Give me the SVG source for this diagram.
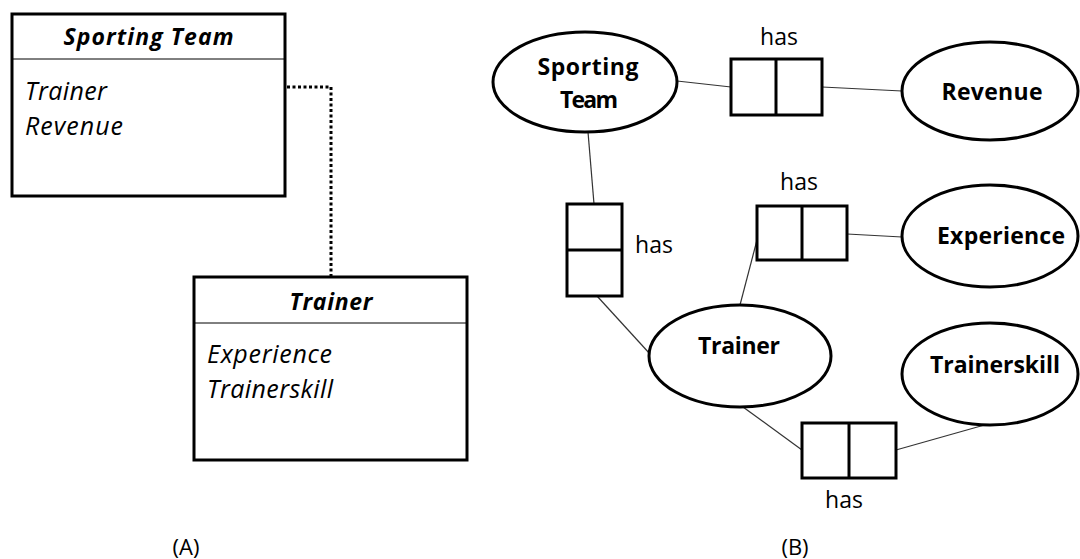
<svg xmlns="http://www.w3.org/2000/svg" width="1080" height="559" viewBox="0 0 1080 559">
  <style>
    .box { fill: #fff; stroke: #000; stroke-width: 3; }
    .div { stroke: #000; stroke-width: 1; }
    .rel { fill: #fff; stroke: #000; stroke-width: 3; }
    .ent { fill: #fff; stroke: #000; stroke-width: 3; }
    .link { stroke: #333; stroke-width: 1.2; fill: none; }
    .dots { stroke: #000; stroke-width: 3; fill: none; stroke-dasharray: 3 2.5; }
    text { font-family: "Open Sans", "Noto Sans", "Liberation Sans", sans-serif; fill: #000; }
    .title { font-size: 23px; font-weight: bold; font-style: italic; text-anchor: middle; }
    .attr { font-size: 25px; font-style: italic; }
    .ename { font-size: 23px; font-weight: bold; text-anchor: middle; }
    .lbl { font-size: 23px; text-anchor: middle; }
    .cap { font-size: 22px; text-anchor: middle; }
  </style>

  <!-- connectors -->
  <g id="connectors">
    <path class="dots" d="M287 87 H331 V277"/>
    <line class="link" x1="677" y1="81" x2="731" y2="87"/>
    <line class="link" x1="822" y1="87" x2="902" y2="91"/>
    <line class="link" x1="588" y1="132" x2="594" y2="204"/>
    <line class="link" x1="597" y1="296" x2="650" y2="354"/>
    <line class="link" x1="757" y1="240" x2="740" y2="305"/>
    <line class="link" x1="847" y1="234" x2="902" y2="237"/>
    <line class="link" x1="743" y1="407" x2="802" y2="450"/>
    <line class="link" x1="896" y1="450" x2="988" y2="424"/>
  </g>

  <!-- (A) class boxes -->
  <g id="classSportingTeam">
    <rect class="box" x="12" y="14" width="273" height="182"/>
    <line class="div" x1="12" y1="59" x2="285" y2="59"/>
    <text class="title" x="148.5" y="45" textLength="170">Sporting Team</text>
    <text class="attr" x="25" y="100" textLength="82">Trainer</text>
    <text class="attr" x="25" y="135" textLength="98">Revenue</text>
  </g>

  <g id="classTrainer">
    <rect class="box" x="194" y="277" width="273" height="183"/>
    <line class="div" x1="194" y1="323" x2="467" y2="323"/>
    <text class="title" x="331" y="310" textLength="83">Trainer</text>
    <text class="attr" x="207" y="363" textLength="125">Experience</text>
    <text class="attr" x="207" y="398" textLength="126">Trainerskill</text>
  </g>

  <!-- (B) entities -->
  <g id="entSportingTeam">
    <ellipse class="ent" cx="585" cy="82" rx="92" ry="50"/>
    <text class="ename" x="588" y="75" textLength="101">Sporting</text>
    <text class="ename" x="589" y="108" textLength="58">Team</text>
  </g>
  <g id="entRevenue">
    <ellipse class="ent" cx="990" cy="91" rx="88" ry="49"/>
    <text class="ename" x="992" y="100" textLength="101">Revenue</text>
  </g>
  <g id="entExperience">
    <ellipse class="ent" cx="990" cy="236" rx="88" ry="51"/>
    <text class="ename" x="1001" y="244" textLength="128">Experience</text>
  </g>
  <g id="entTrainer">
    <ellipse class="ent" cx="740" cy="356" rx="91" ry="51"/>
    <text class="ename" x="739" y="354" textLength="82">Trainer</text>
  </g>
  <g id="entTrainerskill">
    <ellipse class="ent" cx="990" cy="374" rx="88" ry="51"/>
    <text class="ename" x="995" y="373" textLength="130">Trainerskill</text>
  </g>

  <!-- (B) relationships -->
  <g id="relRevenue">
    <rect class="rel" x="731" y="59" width="91" height="56"/>
    <line class="rel" x1="776" y1="59" x2="776" y2="115"/>
    <text class="lbl" x="779" y="45">has</text>
  </g>
  <g id="relTrainer">
    <rect class="rel" x="567" y="204" width="55" height="92"/>
    <line class="rel" x1="567" y1="250" x2="622" y2="250"/>
    <text class="lbl" x="654" y="253">has</text>
  </g>
  <g id="relExperience">
    <rect class="rel" x="757" y="206" width="90" height="54"/>
    <line class="rel" x1="802" y1="206" x2="802" y2="260"/>
    <text class="lbl" x="799" y="190">has</text>
  </g>
  <g id="relTrainerskill">
    <rect class="rel" x="802" y="423" width="94" height="55"/>
    <line class="rel" x1="849" y1="423" x2="849" y2="478"/>
    <text class="lbl" x="844" y="508">has</text>
  </g>

  <!-- captions -->
  <text class="cap" x="186" y="555">(A)</text>
  <text class="cap" x="795" y="555">(B)</text>
</svg>
